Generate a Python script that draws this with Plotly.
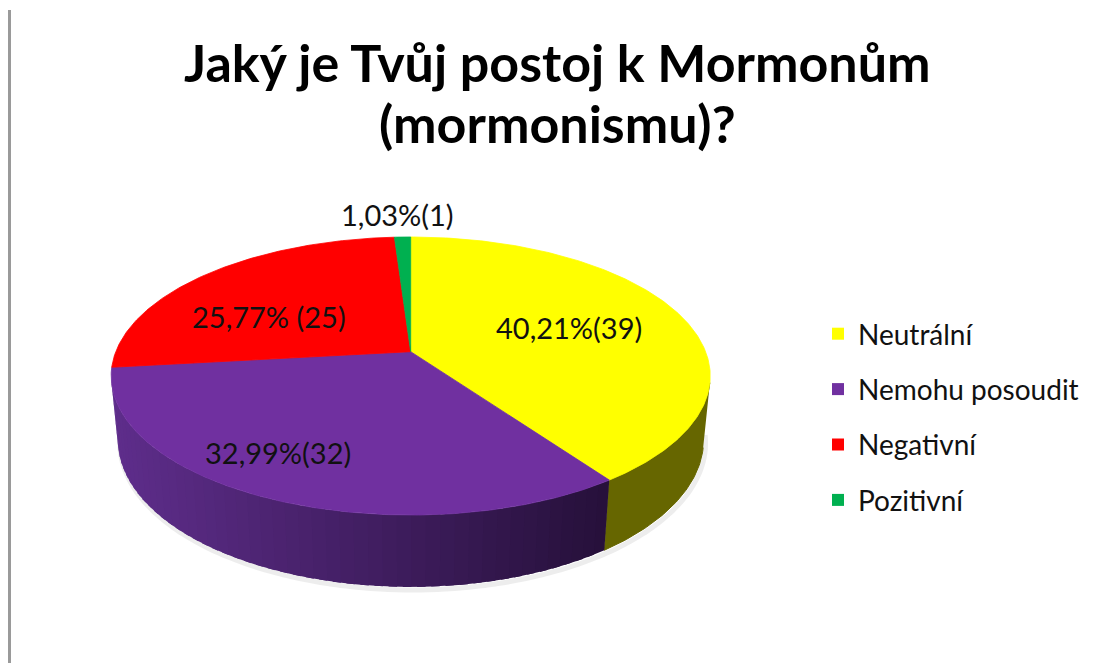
import math

import plotly.graph_objects as go

# data
categories = ["Neutrální", "Nemohu posoudit", "Negativní", "Pozitivní"]
counts = [39, 32, 25, 1]
top_colors = ["#FFFF00", "#7030A0", "#FF0000", "#00B050"]
label_gaps = ["", "", " ", ""]
# where Excel put the data labels (page pixels)
label_pos = [(569, 327), (278, 452), (269, 316), (397, 214)]

TITLE_LINES = ["Jaký je Tvůj postoj k Mormonům", "(mormonismu)?"]
W, H = 1099, 663
OFF = 8  # body margin of the html page, axes are in page pixels

# perspective camera for the 3-D pie (fitted to the picture)
CX, CY = 410.7, 351.7
K = 1500.0
DIST = 5.086
SIN_P, COS_P = 0.457, 0.8895
THICK = 0.246


def project(theta_deg, drop=0.0):
    t = math.radians(theta_deg)
    x, z = math.sin(t), math.cos(t)
    depth = DIST + z * COS_P + drop * SIN_P
    up = z * SIN_P - drop * COS_P
    return CX + K * x / depth, CY - K * up / depth


def arc(a, b, drop=0.0, n=None):
    n = n or max(4, int(abs(b - a) * 1.5))
    pts = [project(a + (b - a) * i / n, drop) for i in range(n + 1)]
    return [p[0] for p in pts], [p[1] for p in pts]


def mix(c1, c2, f):
    f = min(max(f, 0.0), 1.0)
    a = [int(c1[i:i + 2], 16) for i in (1, 3, 5)]
    b = [int(c2[i:i + 2], 16) for i in (1, 3, 5)]
    return "#%02x%02x%02x" % tuple(round(a[i] + (b[i] - a[i]) * f) for i in range(3))


total = sum(counts)
bounds = [0.0]
for v in counts:
    bounds.append(bounds[-1] + 360.0 * v / total)

# side wall is visible where cos(theta) < -1/(D cos(phi))
vis = math.degrees(math.acos(-1.0 / (DIST * COS_P)))
vis_a, vis_b = vis, 360.0 - vis

fig = go.Figure()

# soft shadow under the pie
sx, sy = arc(vis_a - 6, vis_b + 6, THICK, 120)
fig.add_trace(go.Scatter(
    x=[p + 2 for p in sx], y=[p + 3 for p in sy], mode="lines",
    line=dict(color="rgba(0,0,0,0.07)", width=5, shape="spline"),
    hoverinfo="skip", showlegend=False,
))

# side walls
for i, cat in enumerate(categories):
    a, b = max(bounds[i], vis_a), min(bounds[i + 1], vis_b)
    if a >= b:
        continue
    if cat == "Nemohu posoudit":
        steps = 48
        step = (b - a) / steps
        for k in range(steps):
            ta = a + step * k
            tb = min(b, ta + step * 1.6)
            tx, ty = arc(ta, tb, 0, 3)
            bx, by = arc(tb, ta, THICK, 3)
            xm = (tx[0] + tx[-1]) / 2
            col = mix("#5e2d8b", "#26103a", (xm - 112) / (605 - 112))
            fig.add_trace(go.Scatter(
                x=tx + bx, y=ty + by, fill="toself", fillcolor=col,
                mode="lines", line=dict(width=0),
                hoverinfo="skip", showlegend=False,
            ))
    else:
        tx, ty = arc(a, b)
        bx, by = arc(b, a, THICK)
        fig.add_trace(go.Scatter(
            x=tx + bx, y=ty + by, fill="toself", fillcolor="#666600",
            mode="lines", line=dict(color="#666600", width=1),
            hoverinfo="skip", showlegend=False,
        ))

# top face slices
for i, cat in enumerate(categories):
    rx, ry = arc(bounds[i], bounds[i + 1])
    fig.add_trace(go.Scatter(
        x=[CX] + rx + [CX], y=[CY] + ry + [CY], fill="toself",
        fillcolor=top_colors[i], mode="lines",
        line=dict(color=top_colors[i], width=0.8),
        name=cat, hoveron="fills", showlegend=False,
        text=f"{cat}: {counts[i]}", hoverinfo="text",
    ))

# legend entries
for i, cat in enumerate(categories):
    fig.add_trace(go.Scatter(
        x=[None], y=[None], mode="markers", name=cat, legendgroup=cat,
        marker=dict(symbol="square", size=12, color=top_colors[i]),
    ))

for i, cat in enumerate(categories):
    pct = f"{counts[i] / total * 100:.2f}".replace(".", ",")
    fig.add_annotation(
        x=label_pos[i][0], y=label_pos[i][1], xref="x", yref="y",
        text=f"{pct}%{label_gaps[i]}({counts[i]})", showarrow=False,
        font=dict(family="Lato", size=29, color="#111111"),
    )

for line, ty in zip(TITLE_LINES, [62, 123]):
    fig.add_annotation(
        x=557, y=ty, xref="x", yref="y", text=f"<b>{line}</b>",
        showarrow=False,
        font=dict(family="Lato", size=52, color="#000000"),
    )

fig.add_shape(type="line", xref="x", yref="y", x0=OFF + 1.5, x1=OFF + 1.5,
              y0=10, y1=H + OFF, line=dict(color="#9a9a9a", width=3))

fig.update_layout(
    width=W, height=H,
    margin=dict(l=0, r=0, t=0, b=0),
    paper_bgcolor="#ffffff", plot_bgcolor="#ffffff",
    xaxis=dict(range=[OFF, W + OFF], visible=False, fixedrange=True),
    yaxis=dict(range=[H + OFF, OFF], visible=False, fixedrange=True),
    legend=dict(x=810 / W, xanchor="left", y=1 - 301 / H, yanchor="top",
                font=dict(family="Lato", size=28, color="#111111"),
                tracegroupgap=16, bgcolor="rgba(0,0,0,0)"),
    showlegend=True,
)

fig.write_html("out.html")
